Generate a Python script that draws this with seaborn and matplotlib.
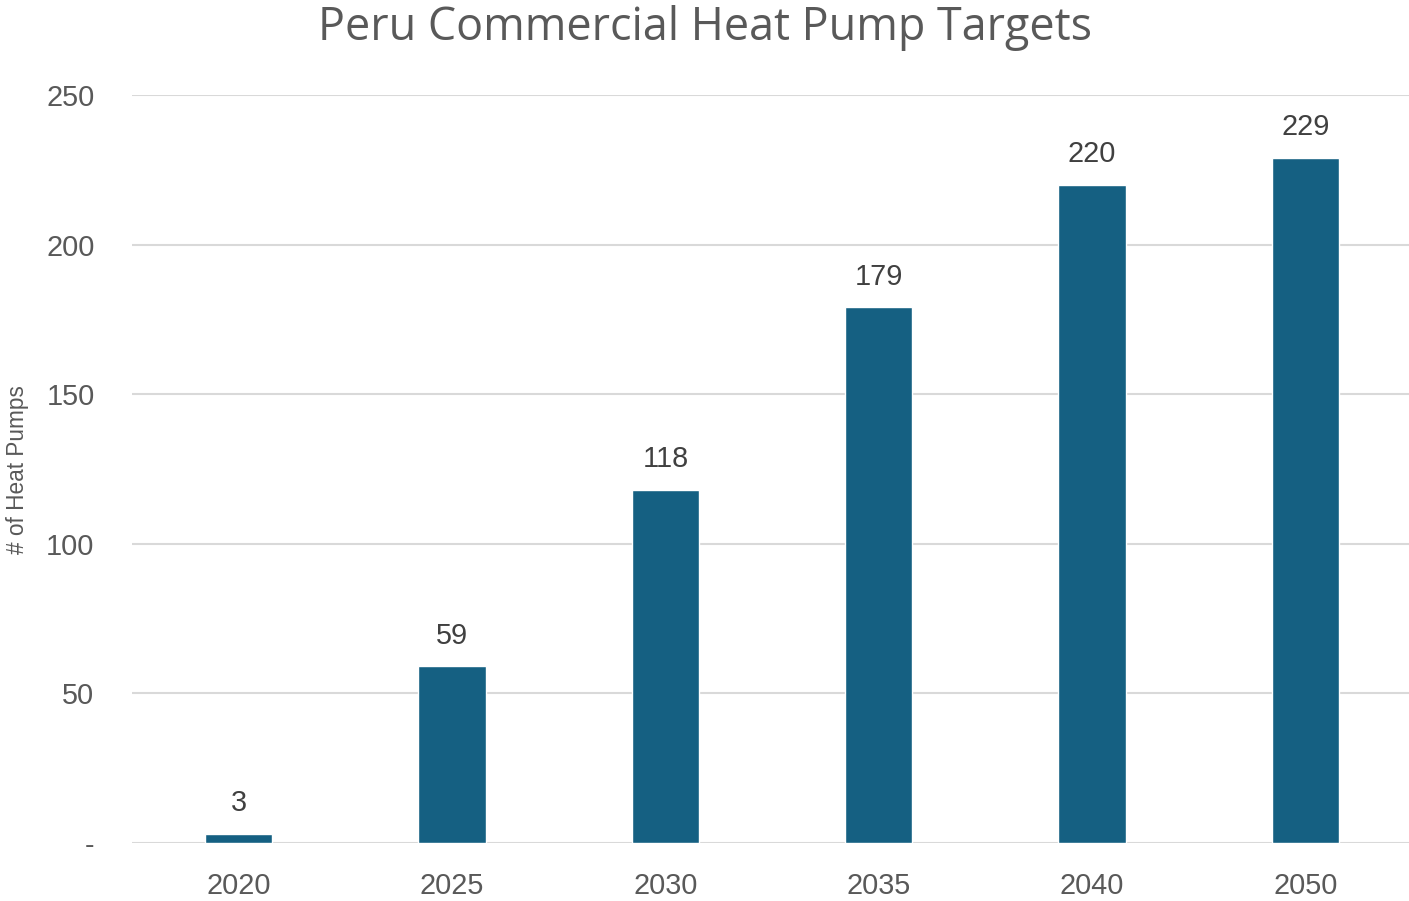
import matplotlib
matplotlib.use("Agg")
import matplotlib.pyplot as plt
import seaborn as sns
import pandas as pd

# Chart data
years = ["2020", "2025", "2030", "2035", "2040", "2050"]
heat_pumps = [3, 59, 118, 179, 220, 229]
y_ticks = [0, 50, 100, 150, 200, 250]
y_tick_labels = ["-", "50", "100", "150", "200", "250"]

BAR_COLOR = "#156082"
TEXT_GRAY = "#595959"
GRID_GRAY = "#d9d9d9"

sns.set_theme(style="white")
plt.rcParams["font.family"] = ["Liberation Sans", "DejaVu Sans"]

df = pd.DataFrame({"year": years, "pumps": heat_pumps})

fig = plt.figure(figsize=(14.09, 9.01), dpi=100)
ax = fig.add_axes([0.0937, 0.0644, 0.9085, 0.8302])

sns.barplot(data=df, x="year", y="pumps", color=BAR_COLOR, width=0.315,
            saturation=1, ax=ax, zorder=3)

ax.set_ylim(0, 250)
ax.set_xlim(-0.5, len(years) - 0.5)
ax.set_yticks(y_ticks)
ax.set_yticklabels(y_tick_labels)

# horizontal gridlines, Excel style
for y in y_ticks:
    ax.axhline(y, color=GRID_GRAY, lw=1.5, zorder=1)

for s in ax.spines.values():
    s.set_visible(False)

ax.tick_params(axis="both", length=0, labelsize=20.8, labelcolor=TEXT_GRAY)
ax.tick_params(axis="y", pad=27)
ax.tick_params(axis="x", pad=21)

ax.set_xlabel("")
ax.set_ylabel("")
fig.text(18 / 1409, 1 - 470 / 901, "# of Heat Pumps", rotation=90,
         ha="center", va="center", fontsize=16.3, color=TEXT_GRAY)

ax.bar_label(ax.containers[0], labels=[str(v) for v in heat_pumps],
             padding=12, fontsize=20.8, color="#404040")

fig.text(0.5, 1 - 28 / 901, "Peru Commercial Heat Pump Targets", fontsize=32.3,
         color=TEXT_GRAY, ha="center", va="center",
         family=["Open Sans", "DejaVu Sans"])

fig.savefig("out.png", dpi=100)
